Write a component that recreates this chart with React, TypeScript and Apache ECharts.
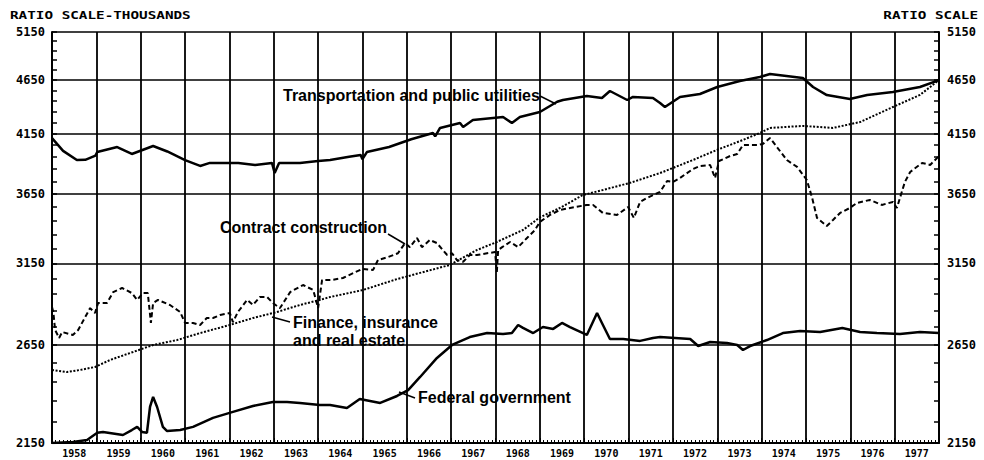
import React, { useEffect, useRef } from "react";
import * as echarts from "echarts";

const yTickValues = [2150, 2650, 3150, 3650, 4150, 4650, 5150];
const yearLabels = [
  1958, 1959, 1960, 1961, 1962, 1963, 1964, 1965, 1966, 1967,
  1968, 1969, 1970, 1971, 1972, 1973, 1974, 1975, 1976, 1977,
];

const transportation: [number, number][] = [
  [1958.0, 4110], [1958.25, 4000], [1958.56, 3923], [1958.75, 3925], [1958.98, 3960],
  [1959.02, 3990], [1959.47, 4033], [1959.8, 3974], [1960.28, 4042], [1960.6, 3995],
  [1961.0, 3923], [1961.34, 3874], [1961.56, 3899], [1962.2, 3899], [1962.58, 3882],
  [1962.96, 3899], [1963.02, 3816], [1963.12, 3899], [1963.59, 3899], [1964.0, 3915],
  [1964.27, 3923], [1964.7, 3950], [1964.96, 3966], [1965.0, 3930], [1965.1, 3990],
  [1965.6, 4033], [1966.1, 4100], [1966.59, 4155], [1966.64, 4125], [1966.75, 4200],
  [1967.2, 4244], [1967.27, 4209], [1967.49, 4271], [1968.17, 4299], [1968.37, 4244],
  [1968.55, 4299], [1969.0, 4345], [1969.39, 4440], [1969.52, 4457], [1970.06, 4495],
  [1970.4, 4476], [1970.58, 4543], [1970.97, 4457], [1971.1, 4486], [1971.55, 4476],
  [1971.71, 4428], [1971.82, 4391], [1972.16, 4486], [1972.61, 4514], [1973.0, 4582],
  [1973.51, 4640], [1973.96, 4680], [1974.19, 4710], [1974.93, 4670], [1975.16, 4582],
  [1975.47, 4504], [1975.99, 4467], [1976.38, 4504], [1976.96, 4533], [1977.57, 4582],
  [1978.0, 4650],
];

const construction: [number, number][] = [
  [1958.0, 2870], [1958.03, 2840], [1958.07, 2734], [1958.16, 2688], [1958.23, 2722],
  [1958.47, 2705], [1958.59, 2734], [1958.86, 2864], [1958.97, 2834], [1959.04, 2895],
  [1959.24, 2895], [1959.38, 2963], [1959.58, 2989], [1959.8, 2957], [1959.92, 2914],
  [1960.05, 2957], [1960.16, 2957], [1960.23, 2775], [1960.28, 2895], [1960.39, 2914],
  [1960.66, 2883], [1960.89, 2840], [1961.0, 2775], [1961.18, 2775], [1961.34, 2763],
  [1961.49, 2804], [1961.63, 2804], [1961.79, 2822], [1962.01, 2834], [1962.08, 2780],
  [1962.19, 2840], [1962.4, 2914], [1962.53, 2883], [1962.69, 2932], [1962.85, 2932],
  [1962.98, 2895], [1963.14, 2864], [1963.37, 2963], [1963.66, 3008], [1963.89, 2976],
  [1964.0, 2864], [1964.09, 3040], [1964.3, 3040], [1964.56, 3053], [1964.99, 3112],
  [1965.24, 3106], [1965.35, 3172], [1965.58, 3192], [1965.8, 3218], [1965.96, 3288],
  [1966.07, 3260], [1966.23, 3324], [1966.34, 3260], [1966.52, 3310], [1966.68, 3288],
  [1966.91, 3206], [1967.02, 3218], [1967.13, 3172], [1967.27, 3160], [1967.42, 3206],
  [1967.58, 3206], [1967.81, 3218], [1967.99, 3226], [1968.03, 3092], [1968.06, 3240],
  [1968.15, 3260], [1968.33, 3296], [1968.51, 3260], [1968.71, 3324], [1968.89, 3381],
  [1969.0, 3440], [1969.23, 3491], [1969.45, 3528], [1969.68, 3543], [1970.06, 3566],
  [1970.2, 3566], [1970.42, 3506], [1970.74, 3491], [1970.99, 3550], [1971.12, 3469],
  [1971.26, 3589], [1971.42, 3620], [1971.71, 3666], [1971.87, 3752], [1972.0, 3744],
  [1972.16, 3776], [1972.45, 3849], [1972.61, 3874], [1972.84, 3882], [1972.95, 3776],
  [1973.04, 3915], [1973.29, 3957], [1973.45, 3974], [1973.58, 4050], [1973.9, 4050],
  [1974.03, 4060], [1974.19, 4111], [1974.57, 3923], [1974.8, 3866], [1975.02, 3760],
  [1975.14, 3620], [1975.25, 3469], [1975.47, 3410], [1975.61, 3454], [1975.77, 3506],
  [1975.99, 3543], [1976.15, 3581], [1976.44, 3604], [1976.71, 3566], [1976.96, 3589],
  [1977.05, 3543], [1977.23, 3744], [1977.35, 3825], [1977.62, 3899], [1977.8, 3882],
  [1978.0, 3957],
];

const finance: [number, number][] = [
  [1958.0, 2511], [1958.34, 2500], [1958.63, 2511], [1958.97, 2527], [1959.31, 2565],
  [1959.83, 2609], [1960.28, 2648], [1960.82, 2676], [1961.34, 2716], [1962.01, 2763],
  [1962.53, 2804], [1963.07, 2840], [1963.59, 2883], [1964.04, 2914], [1964.27, 2932],
  [1965.01, 2976], [1965.78, 3046], [1966.97, 3139], [1967.58, 3240], [1968.03, 3296],
  [1968.62, 3381], [1969.0, 3473], [1969.45, 3543], [1969.97, 3642], [1970.42, 3681],
  [1971.03, 3737], [1971.71, 3816], [1972.45, 3923], [1972.99, 4008], [1973.58, 4094],
  [1973.96, 4155], [1974.19, 4200], [1974.93, 4218], [1975.61, 4200], [1976.22, 4253],
  [1976.96, 4391], [1977.57, 4505], [1978.0, 4650],
];

const federal: [number, number][] = [
  [1958.0, 2150], [1958.47, 2155], [1958.79, 2164], [1959.02, 2197], [1959.15, 2201],
  [1959.6, 2187], [1959.8, 2210], [1959.92, 2225], [1960.03, 2201], [1960.14, 2197],
  [1960.21, 2321], [1960.28, 2371], [1960.37, 2321], [1960.5, 2225], [1960.59, 2206],
  [1960.89, 2210], [1961.18, 2225], [1961.63, 2268], [1962.08, 2297], [1962.53, 2326],
  [1962.98, 2346], [1963.3, 2346], [1963.59, 2341], [1964.04, 2331], [1964.27, 2331],
  [1964.65, 2316], [1964.94, 2361], [1965.4, 2341], [1965.78, 2376], [1966.03, 2406],
  [1966.3, 2474], [1966.68, 2576], [1967.02, 2648], [1967.42, 2693], [1967.81, 2716],
  [1968.17, 2711], [1968.37, 2716], [1968.51, 2763], [1968.62, 2746], [1968.85, 2716],
  [1969.07, 2751], [1969.3, 2740], [1969.5, 2775], [1969.68, 2751], [1970.06, 2705],
  [1970.29, 2834], [1970.4, 2775], [1970.58, 2682], [1970.88, 2682], [1971.26, 2671],
  [1971.55, 2688], [1971.71, 2693], [1972.39, 2682], [1972.57, 2642], [1972.84, 2665],
  [1973.22, 2659], [1973.45, 2648], [1973.58, 2620], [1973.74, 2642], [1974.12, 2676],
  [1974.48, 2716], [1974.87, 2728], [1975.32, 2722], [1975.82, 2745], [1976.22, 2722],
  [1976.6, 2716], [1977.12, 2711], [1977.57, 2722], [1978.0, 2716],
];

export default function App() {
  const ref = useRef<HTMLDivElement>(null);
  useEffect(() => {
    if (!ref.current) return;
    const chart = echarts.init(ref.current, null, { renderer: "svg" });
    const L = Math.log;
    const yMin = L(yTickValues[0]);
    const yMax = L(yTickValues[yTickValues.length - 1]);
    const toLn = (arr: [number, number][]) => arr.map(([x, v]) => [x, L(v)]);
    const majorLn = yTickValues.map((v) => L(v));
    const minorLn: number[] = [];
    for (let v = yTickValues[0]; v <= yTickValues[yTickValues.length - 1]; v += 100) minorLn.push(L(v));
    const labelFont = '"DejaVu Sans Mono", monospace';
    const annFont = 'bold 16px "Liberation Sans", Arial, sans-serif';
    const fmtY = (v: number) => String(Math.round(Math.exp(v)));

    const sideAxis = (position: "left" | "right") => ({
      type: "value",
      position,
      min: yMin,
      max: yMax,
      axisLine: { show: true, onZero: false, lineStyle: { color: "#000", width: 2 } },
      axisTick: { show: true, inside: true, length: 5, customValues: minorLn, lineStyle: { color: "#000", width: 1.5 } },
      axisLabel: {
        show: true,
        customValues: majorLn,
        formatter: fmtY,
        color: "#000",
        fontFamily: labelFont,
        fontWeight: "bold",
        fontSize: 12,
        margin: position === "left" ? 7 : 8,
      },
      splitLine: { show: false },
    });

    const lineSeries = (name: string, data: [number, number][], width: number, type: any) => ({
      name,
      type: "line",
      data: toLn(data),
      showSymbol: false,
      symbol: "none",
      xAxisIndex: 0,
      yAxisIndex: 0,
      lineStyle: { color: "#000", width, type },
      z: 5,
    });

    const txt = (text: string, x: number, y: number) => ({
      type: "text",
      x,
      y,
      z: 10,
      style: {
        text,
        font: annFont,
        fill: "#000",
        align: "left",
        textAlign: "left",
        verticalAlign: "middle",
        textVerticalAlign: "middle",
      },
    });
    const ln = (x1: number, y1: number, x2: number, y2: number) => ({
      type: "line",
      z: 10,
      shape: { x1, y1, x2, y2 },
      style: { stroke: "#000", lineWidth: 1.5 },
    });

    chart.setOption({
      animation: false,
      backgroundColor: "#fff",
      grid: { left: 52, right: 45, top: 32, bottom: 17, containLabel: false, outerBoundsMode: "none" },
      xAxis: {
        type: "value",
        min: yearLabels[0],
        max: yearLabels[yearLabels.length - 1] + 1,
        interval: 1,
        axisLine: { show: true, onZero: false, lineStyle: { color: "#000", width: 2 } },
        axisTick: { show: true, inside: true, length: 5, lineStyle: { color: "#000", width: 1 } },
        minorTick: { show: true, splitNumber: 12, length: 3, lineStyle: { color: "#000", width: 1 } },
        axisLabel: {
          customValues: yearLabels.map((y) => y + 0.5),
          formatter: (v: number) => String(Math.floor(v)),
          color: "#000",
          fontFamily: labelFont,
          fontWeight: "bold",
          fontSize: 10,
          margin: 5,
        },
        splitLine: { show: true, lineStyle: { color: "#000", width: 1.8 } },
      },
      yAxis: [
        sideAxis("left"),
        sideAxis("right"),
        {
          type: "value",
          position: "left",
          min: yMin,
          max: yMax,
          axisLine: { show: false },
          axisTick: { show: false, customValues: majorLn },
          axisLabel: { show: false },
          splitLine: { show: true, lineStyle: { color: "#000", width: 1.6 } },
        },
      ],
      series: [
        lineSeries("Transportation and public utilities", transportation, 2.5, "solid"),
        lineSeries("Contract construction", construction, 2, [5, 3]),
        lineSeries("Finance, insurance and real estate", finance, 2, [2, 1.6]),
        lineSeries("Federal government", federal, 2.5, "solid"),
      ],
      graphic: [
        {
          type: "text",
          x: 10,
          y: 15,
          scaleX: 1.3,
          style: {
            text: "RATIO SCALE-THOUSANDS",
            font: 'bold 11px "DejaVu Sans Mono", monospace',
            fill: "#000",
            align: "left",
            textAlign: "left",
            verticalAlign: "middle",
            textVerticalAlign: "middle",
          },
        },
        {
          type: "text",
          x: 978,
          y: 15,
          scaleX: 1.3,
          style: {
            text: "RATIO SCALE",
            font: 'bold 11px "DejaVu Sans Mono", monospace',
            fill: "#000",
            align: "right",
            textAlign: "right",
            verticalAlign: "middle",
            textVerticalAlign: "middle",
          },
        },
        txt("Transportation and public utilities", 283, 95),
        ln(540, 96, 556, 104),
        txt("Contract construction", 220, 227),
        ln(388, 234, 405, 244),
        txt("Finance, insurance", 293, 322),
        txt("and real estate", 293, 340),
        ln(290, 322, 272, 317),
        txt("Federal government", 418, 397),
        ln(415, 398, 399, 392),
      ],
    });
    return () => chart.dispose();
  }, []);
  return (
    <div
      ref={ref}
      style={{ position: "absolute", left: 0, top: 0, width: 984, height: 460 }}
    />
  );
}
